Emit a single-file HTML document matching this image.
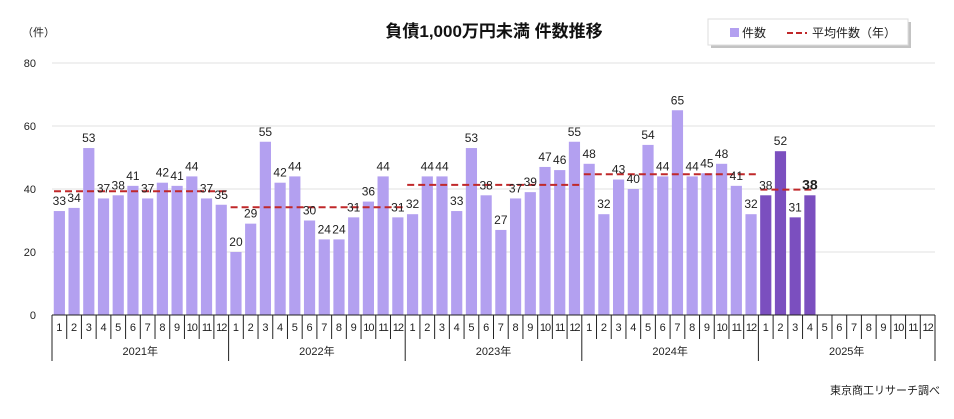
<!DOCTYPE html>
<html><head><meta charset="utf-8"><style>
body{margin:0;background:#fff;font-family:"Liberation Sans","Noto Sans CJK JP",sans-serif;}
svg text{font-family:"Liberation Sans","Noto Sans CJK JP",sans-serif;}
</style></head><body>
<svg id="chart" width="954" height="414" xmlns="http://www.w3.org/2000/svg">
<text x="494" y="37" text-anchor="middle" font-size="17" font-weight="bold" fill="#111">負債1,000万円未満 件数推移</text>
<text x="22" y="36" font-size="11" fill="#222">（件）</text>
<g>
<rect x="711" y="22" width="200" height="26" fill="#888" opacity="0.5"/>
<rect x="708" y="19" width="200" height="26" fill="#fff" stroke="#ddd"/>
<rect x="730" y="28" width="9" height="9" fill="#b3a0f0"/>
<text x="742" y="37" font-size="12" fill="#222">件数</text>
<line x1="787" y1="33" x2="807" y2="33" stroke="#c0282a" stroke-width="2" stroke-dasharray="6,3"/>
<text x="812" y="37" font-size="12" fill="#222">平均件数（年）</text>
</g>
<g id="grid"></g><g id="bars"></g><g id="avg"></g><g id="labels"></g><g id="xaxis"></g>
<text x="940" y="394" text-anchor="end" font-size="11" fill="#222">東京商工リサーチ調べ</text>
</svg>
<script>
const years=["2021年","2022年","2023年","2024年","2025年"];
const months=[1,2,3,4,5,6,7,8,9,10,11,12];
const counts2021=[33,34,53,37,38,41,37,42,41,44,37,35];
const counts2022=[20,29,55,42,44,30,24,24,31,36,44,31];
const counts2023=[32,44,44,33,53,38,27,37,39,47,46,55];
const counts2024=[48,32,43,40,54,44,65,44,45,48,41,32];
const counts2025=[38,52,31,38];
const yearAvg=[39.3,34.2,41.3,44.7,39.8];
const yTicks=[0,20,40,60,80];
const NS="http://www.w3.org/2000/svg";
const X0=52,X1=935,Y0=315,Y80=63;
const slot=(X1-X0)/60;
const xs=i=>X0+i*slot;
const ys=v=>Y0-(v/80)*(Y0-Y80);
function mk(p,tag,a,txt){const e=document.createElementNS(NS,tag);for(const k in a)e.setAttribute(k,a[k]);if(txt!==undefined)e.textContent=txt;document.getElementById(p).appendChild(e);return e;}
yTicks.forEach(t=>{
 if(t>0){const g=mk('grid','line',{x1:X0,x2:X1,y1:ys(t),y2:ys(t),stroke:'#e0e0e0'});
 
 }
 const l=mk('grid','text',{x:36,y:ys(t)+4,'text-anchor':'end','font-size':11,fill:'#222'},t);
 
 
});
const all=[counts2021,counts2022,counts2023,counts2024,counts2025];
all.forEach((arr,yi)=>{
 arr.forEach((v,mi)=>{
  const i=yi*12+mi;const bw=slot*0.76;
  const r=mk('bars','rect',{x:xs(i)+(slot-bw)/2,y:ys(v),width:bw,height:Y0-ys(v),fill:yi===4?'#7b4fbf':'#b3a0f0'});
  
  
  const last=(yi===4&&mi===arr.length-1);
  const t=mk('labels','text',{x:xs(i)+slot/2,y:ys(v)-6,'text-anchor':'middle','font-size':last?14:12,'font-weight':last?'bold':'normal',fill:'#222'},v);
  
  
 });
 const n=arr.length;
 const a=mk('avg','line',{x1:xs(yi*12)+2,x2:xs(yi*12+(yi===4?n:12))-2,y1:ys(yearAvg[yi]),y2:ys(yearAvg[yi]),stroke:'#c0282a','stroke-width':2,'stroke-dasharray':'7,4'});
 
 
});
mk('xaxis','line',{x1:X0,x2:X1,y1:Y0,y2:Y0,stroke:'#222'});
for(let i=0;i<=60;i++){
 const big=i%12===0;
 mk('xaxis','line',{x1:xs(i),x2:xs(i),y1:Y0,y2:big?361:339,stroke:'#222'});
}
years.forEach((y,yi)=>{
 months.forEach((m,mi)=>{
  const t=mk('xaxis','text',{x:xs(yi*12+mi)+slot/2,y:331,'text-anchor':'middle','font-size':11,fill:'#222','letter-spacing':m>=10?'-1':'0'},m);
  
  
 });
 const t=mk('xaxis','text',{x:xs(yi*12+6),y:355,'text-anchor':'middle','font-size':11,fill:'#222'},y);
 
 
});
</script>
</body></html>
